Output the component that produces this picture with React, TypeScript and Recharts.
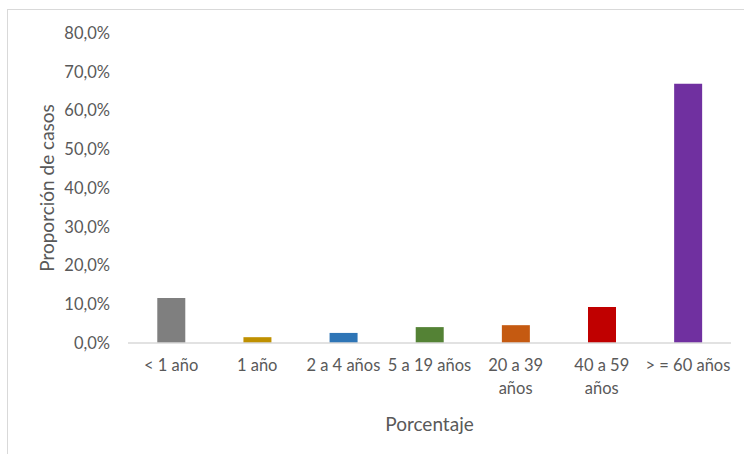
import React from "react";
import { BarChart, Bar, XAxis, YAxis, Cell, Label } from "recharts";

const categories = ["< 1 año", "1 año", "2 a 4 años", "5 a 19 años", "20 a 39 años", "40 a 59 años", "> = 60 años"];
const tickLines = [["< 1 año"], ["1 año"], ["2 a 4 años"], ["5 a 19 años"], ["20 a 39", "años"], ["40 a 59", "años"], ["> = 60 años"]];
const values = [11.6, 1.5, 2.6, 4.1, 4.6, 9.3, 66.9];
const colors = ["#7f7f7f", "#bf9000", "#2e75b6", "#548235", "#c55a11", "#c00000", "#7030a0"];
const yTicks = [0, 10, 20, 30, 40, 50, 60, 70, 80];

const data = categories.map((c, i) => ({ name: c, value: values[i] }));
const FONT = "Lato, 'Open Sans', sans-serif";
const TEXT = "#595959";

const XTick = (props: any) => {
  const { x, y, index } = props;
  const lines = tickLines[index] || [categories[index]];
  return (
    <text x={x} y={y} textAnchor="middle" fill={TEXT} fontFamily={FONT} fontSize={16.5}>
      {lines.map((l: string, i: number) => (
        <tspan key={i} x={x} dy={i === 0 ? 20 : 23}>{l}</tspan>
      ))}
    </text>
  );
};

export default function App() {
  return (
    <div style={{ position: "absolute", left: 0, top: 0, width: 744, height: 454, background: "#fff", overflow: "hidden" }}>
      <div style={{ position: "absolute", left: 7, top: 9, width: 800, height: 500, borderLeft: "1px solid #d9d9d9", borderTop: "1px solid #d9d9d9" }} />
      <div style={{ position: "absolute", left: 0, top: 0 }}>
        <BarChart width={744} height={454} data={data} margin={{ top: 33, right: 13, left: 0, bottom: 0 }} barCategoryGap="34%">
          <XAxis
            dataKey="name"
            height={111}
            axisLine={{ stroke: "#d9d9d9", strokeWidth: 1.5 }}
            tickLine={false}
            interval={0}
            tick={<XTick />}
          >
            <Label value="Porcentaje" position="insideBottom" offset={23} fill={TEXT} fontFamily={FONT} fontSize={19} />
          </XAxis>
          <YAxis
            width={128}
            domain={[0, 80]}
            ticks={yTicks}
            axisLine={false}
            tickLine={false}
            tickMargin={12}
            tickFormatter={(v: number) => v.toFixed(1).replace(".", ",") + "%"}
            tick={{ fill: TEXT, fontFamily: FONT, fontSize: 16.5 }}
          >
            <Label value="Proporción de casos" angle={-90} position="center" dx={-17} fill={TEXT} fontFamily={FONT} fontSize={19} />
          </YAxis>
          <Bar dataKey="value" isAnimationActive={false}>
            {data.map((d, i) => (
              <Cell key={i} fill={colors[i]} />
            ))}
          </Bar>
        </BarChart>
      </div>
    </div>
  );
}
